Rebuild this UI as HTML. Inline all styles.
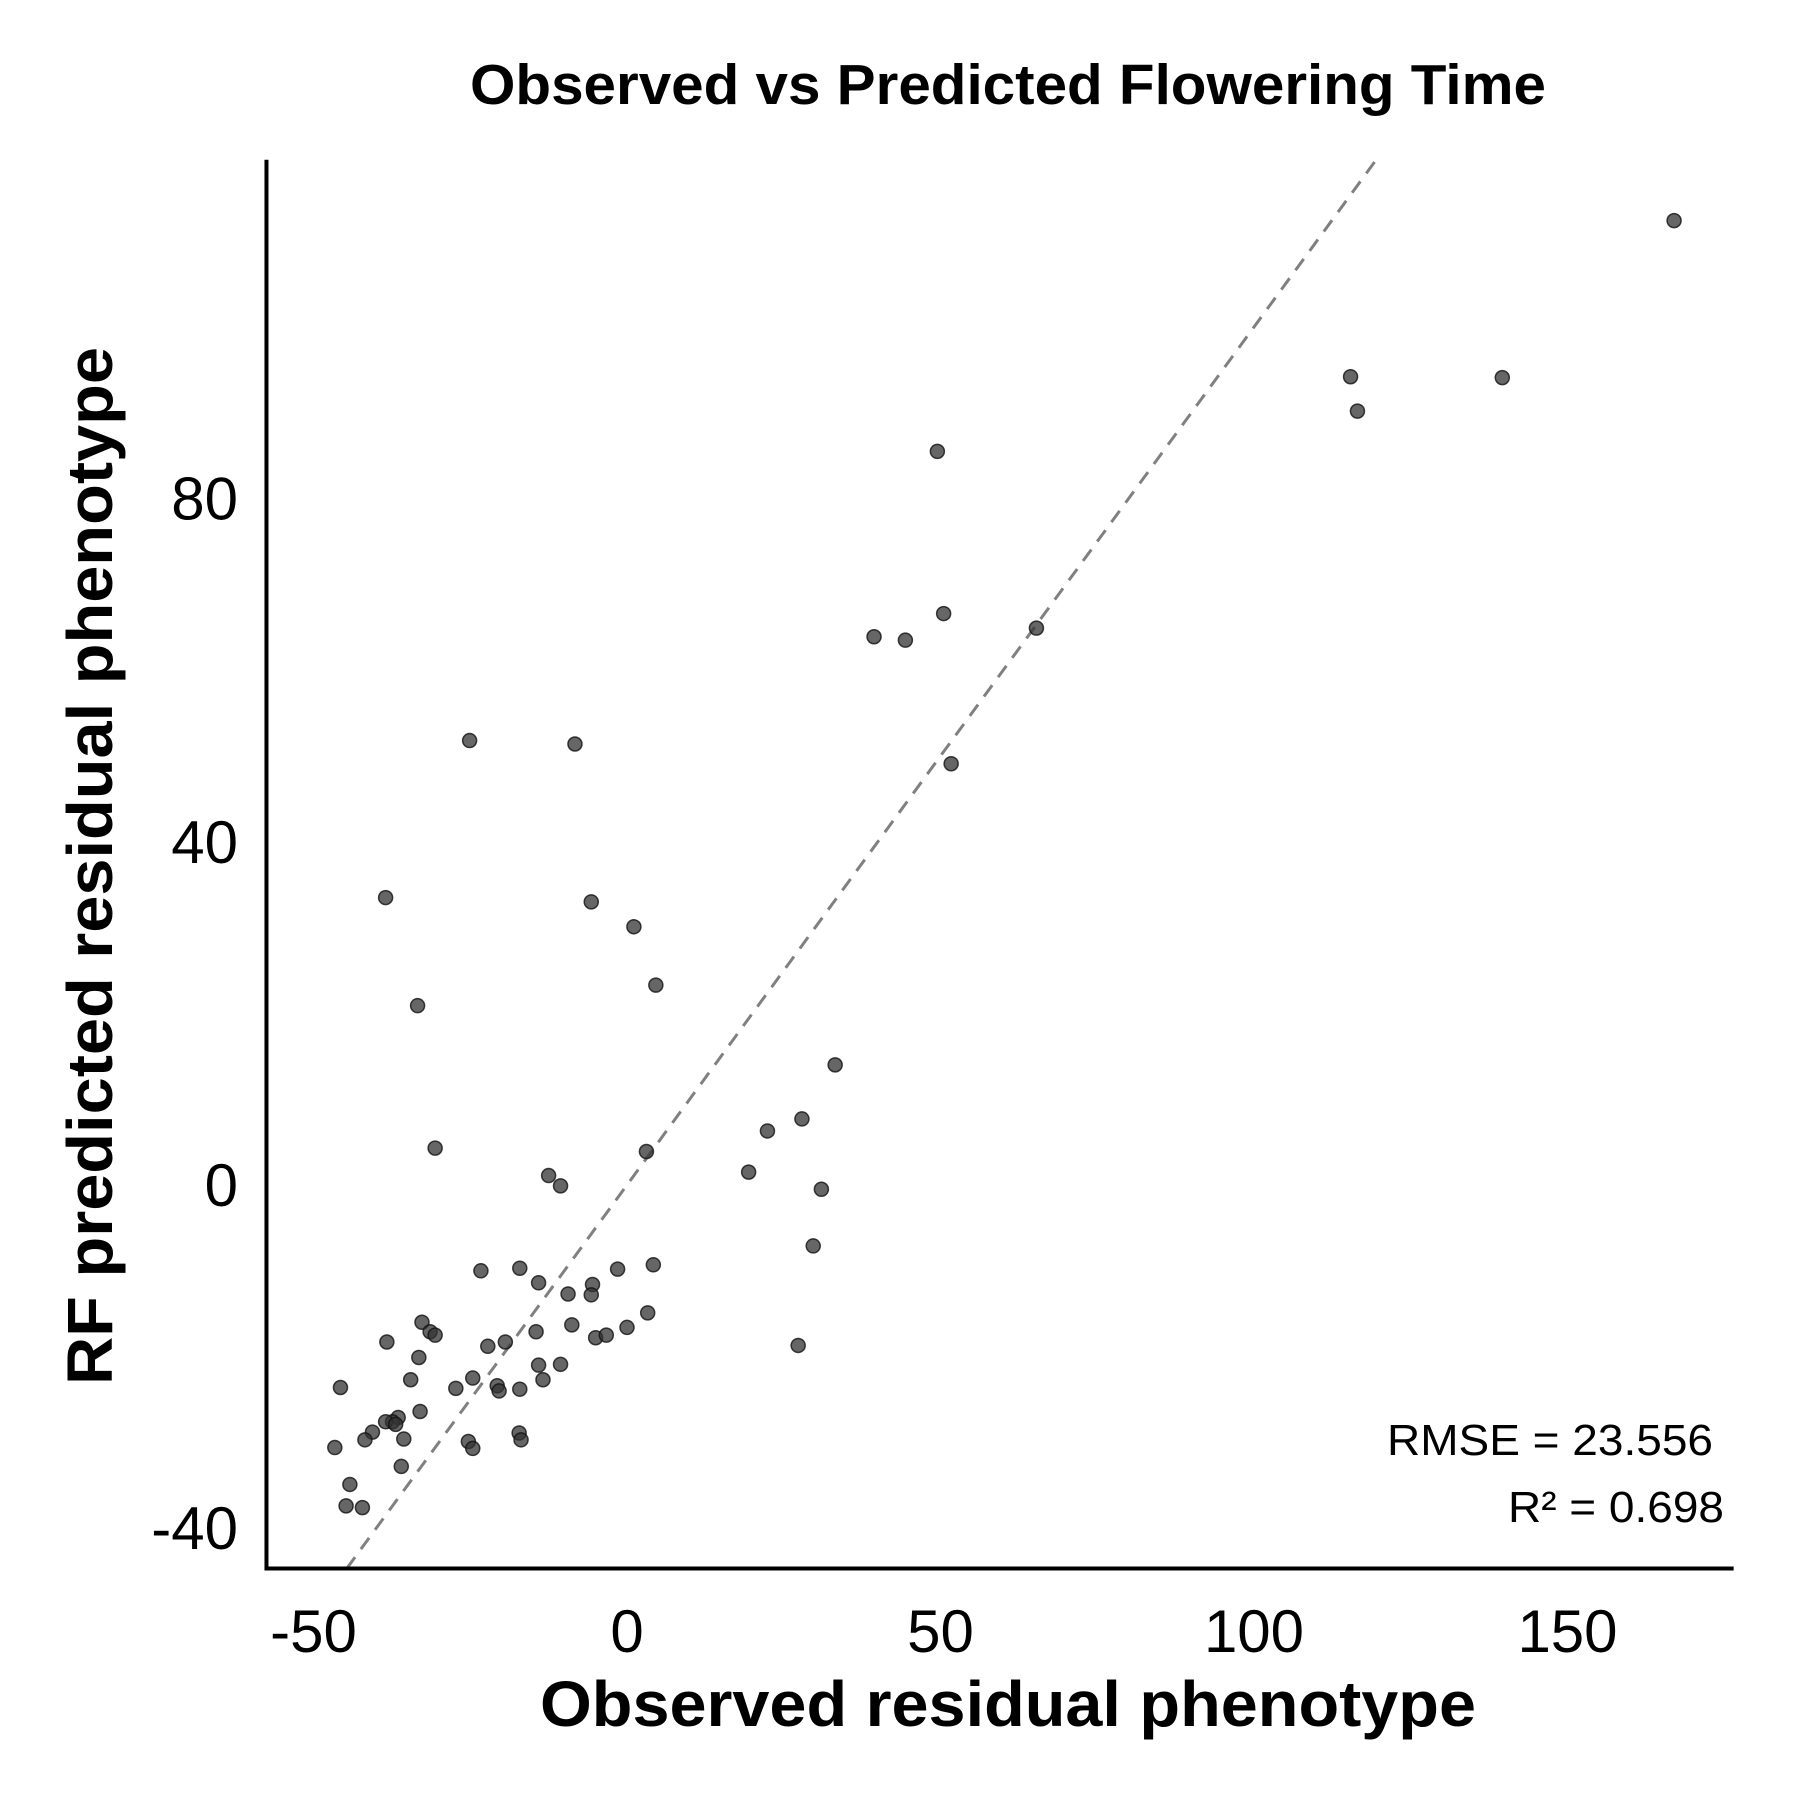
<!DOCTYPE html>
<html><head><meta charset="utf-8"><style>body{margin:0;background:#fff}svg{display:block;font-family:"Liberation Sans",Arial,sans-serif}</style></head>
<body>
<svg id="chart" width="1800" height="1800" viewBox="0 0 1800 1800" xmlns="http://www.w3.org/2000/svg">
<text x="1008" y="104" text-anchor="middle" font-size="57" font-weight="bold" textLength="1076" lengthAdjust="spacingAndGlyphs">Observed vs Predicted Flowering Time</text>
<g id="plot"></g>
<text x="1008" y="1726" text-anchor="middle" font-size="64" font-weight="bold" textLength="936" lengthAdjust="spacingAndGlyphs">Observed residual phenotype</text>
<text transform="translate(112,866) rotate(-90)" text-anchor="middle" font-size="64" font-weight="bold" textLength="1038" lengthAdjust="spacingAndGlyphs">RF predicted residual phenotype</text>
<text x="1713" y="1455" text-anchor="end" font-size="44" textLength="326" lengthAdjust="spacingAndGlyphs">RMSE = 23.556</text>
<text x="1724" y="1522" text-anchor="end" font-size="44" textLength="216" lengthAdjust="spacingAndGlyphs">R² = 0.698</text>
</svg>
<script>
const obsX = [167,115.4,139.6,116.5,49.5,39.4,44.4,50.5,65.3,-25.1,-8.3,51.7,-38.5,-5.7,1.1,4.6,-33.4,33.2,27.9,22.4,-30.6,3.1,19.4,-12.5,-10.6,31.0,29.7,-23.3,-17.1,-1.5,4.2,-14.1,-9.4,-5.5,-5.7,3.3,-32.7,-31.4,-30.6,-38.3,-14.5,-8.8,-5.0,-3.3,0,27.3,-22.2,-33.2,-14.1,-10.6,-19.4,-34.5,-24.6,-13.4,-45.7,-27.3,-20.7,-20.4,-17.1,-33.0,-36.5,-37.4,-38.5,-36.9,-40.6,-41.8,-35.6,-17.2,-16.9,-46.6,-25.3,-24.6,-36.0,-44.2,-44.8,-42.2];
const predY = [112.4,94.2,94.1,90.2,85.5,63.9,63.5,66.6,64.9,51.8,51.4,49.1,33.5,33.0,30.1,23.3,20.9,14.0,7.7,6.3,4.3,3.9,1.5,1.1,-0.1,-0.5,-7.1,-10.0,-9.7,-9.8,-9.3,-11.4,-12.7,-11.6,-12.8,-14.9,-16.0,-17.1,-17.5,-18.3,-17.1,-16.3,-17.8,-17.5,-16.6,-18.7,-18.8,-20.1,-21.0,-20.9,-18.3,-22.7,-22.5,-22.7,-23.6,-23.7,-23.4,-24.0,-23.8,-26.4,-27.1,-27.6,-27.6,-27.9,-28.8,-29.7,-29.6,-28.9,-29.7,-30.6,-29.9,-30.7,-32.8,-34.9,-37.4,-37.6];
const xTicks = [-50,0,50,100,150];
const yTicks = [-40,0,40,80];
const xDomain = [-57.5,176.5];
const yDomain = [-44.7,119.5];

const NS='http://www.w3.org/2000/svg';
const sx = v => 627 + 6.27*v;
const sy = v => 1185 - 8.58*v;
const g = document.getElementById('plot');
function mk(tag, attrs){const e=document.createElementNS(NS,tag);for(const k in attrs)e.setAttribute(k,attrs[k]);g.appendChild(e);return e;}
const L = sx(xDomain[0]), R = sx(xDomain[1]), T = sy(yDomain[1]), B = sy(yDomain[0]);
const lo = Math.max(xDomain[0], yDomain[0]), hi = Math.min(xDomain[1], yDomain[1]);
const ref = mk('line',{x1:sx(lo),y1:sy(lo),x2:sx(hi),y2:sy(hi),stroke:'#808080','stroke-width':3,'stroke-dasharray':'14 10'});


for (let i=0;i<obsX.length;i++){
  const c = mk('circle',{cx:sx(obsX[i]),cy:sy(predY[i]),r:7,fill:'#333','fill-opacity':0.75,stroke:'#111','stroke-opacity':0.8,'stroke-width':1.5});
  
  
}
const ya = mk('line',{x1:L,y1:T,x2:L,y2:B+2,stroke:'#000','stroke-width':4});


const xa = mk('line',{x1:L-2,y1:B,x2:R,y2:B,stroke:'#000','stroke-width':4});


xTicks.forEach(t=>{
  const e = mk('text',{x:sx(t),y:1652,'text-anchor':'middle','font-size':60});
  e.textContent = t;
  
  
});
yTicks.forEach(t=>{
  const e = mk('text',{x:238,y:sy(t)+21,'text-anchor':'end','font-size':60});
  e.textContent = t;
  
  
});
</script>
</body></html>
